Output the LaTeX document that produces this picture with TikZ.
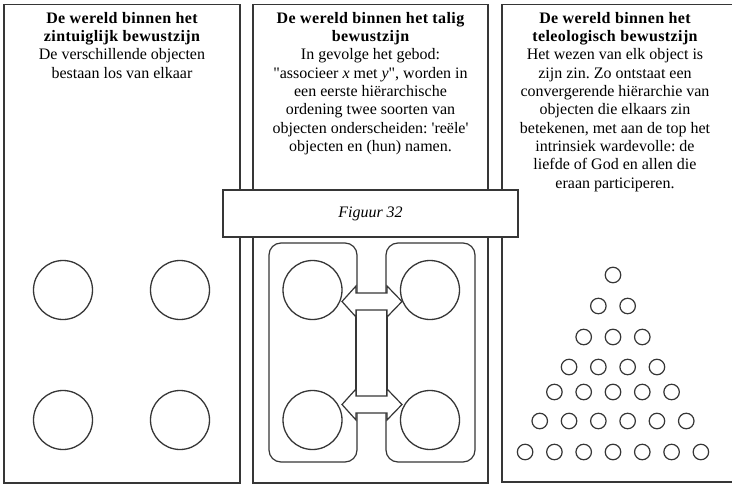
\documentclass[tikz,border=0pt]{standalone}
\usepackage{fontspec}
\setmainfont{Liberation Serif}[Ligatures=TeXOff]
\definecolor{ink}{HTML}{363636}
\newcommand\paneltitle[1]{{\bfseries\addfontfeatures{LetterSpace=2.5}#1}}
\frenchspacing
\begin{document}
\begin{tikzpicture}[x=1pt,y=-1pt,
  panel/.style={draw=ink,line width=1.4pt},
  obj/.style={circle,draw=ink,line width=1.3pt,minimum size=59pt,inner sep=0pt},
  dot/.style={circle,draw=ink,line width=1.2pt,minimum size=15.5pt,inner sep=0pt},
  txt/.style={align=center,inner sep=0pt,anchor=north,font=\fontsize{16}{18.3}\selectfont},
  group/.style={draw=ink,line width=1.2pt,rounded corners=12pt},
  link/.style={draw=ink,fill=white,line width=1.2pt,line join=miter},
  caption/.style={draw=ink,fill=white,line width=1.4pt,minimum width=295pt,minimum height=47pt,inner sep=0pt,font=\fontsize{16}{18}\selectfont\itshape}]
\useasboundingbox (0,0) rectangle (732,485);
\clip (0,0) rectangle (732,485);
\fill[white] (0,0) rectangle (732,485);
% panels
\draw[panel] (4,4.5) rectangle (240,483);
\draw[panel] (253,4.5) rectangle (488,483);
\draw[panel] (502,4.5) rectangle (745,482);
% texts
\node[txt] (t1) at (122,12) {\paneltitle{De wereld binnen het}\\\paneltitle{zintuiglijk bewustzijn}\\De verschillende objecten\\bestaan los van elkaar};
\node[txt] (t2) at (370.5,12) {\paneltitle{De wereld binnen het talig}\\\paneltitle{bewustzijn}\\In gevolge het gebod:\\"associeer \textit{x} met \textit{y}", worden in\\een eerste hiërarchische\\ordening twee soorten van\\objecten onderscheiden: 'reële'\\objecten en (hun) namen.};
\node[txt] (t3) at (615,12) {\paneltitle{De wereld binnen het}\\\paneltitle{teleologisch bewustzijn}\\Het wezen van elk object is\\zijn zin. Zo ontstaat een\\convergerende hiërarchie van\\objecten die elkaars zin\\betekenen, met aan de top het\\intrinsiek wardevolle: de\\liefde of God en allen die\\eraan participeren.};
% caption
\node[caption] (fig) at (370.5,213.5) {Figuur 32};
% left panel objects
\node[obj] (a1) at (63,290) {};
\node[obj] (a2) at (180,290) {};
\node[obj] (a3) at (63,420) {};
\node[obj] (a4) at (180,420) {};
% middle panel
\draw[group] (269,243) rectangle (357,462);
\draw[group] (386,243) rectangle (475,462);
\node[obj] (m1) at (312.5,290) {};
\node[obj] (m2) at (430,290) {};
\node[obj] (m3) at (312.5,420) {};
\node[obj] (m4) at (430,420) {};
\draw[link] (356,309.5) rectangle (387,396.5);
\foreach \c in {301.5,404.5}{
  \draw[link] (342,\c) -- (356,\c-15.5) -- (356,\c-8.5) -- (387,\c-8.5) -- (387,\c-15.5)
    -- (402,\c) -- (387,\c+15.5) -- (387,\c+8.5) -- (356,\c+8.5) -- (356,\c+15.5) -- cycle;
}
% right panel triangle
\foreach \k/\yy in {1/275,2/306,3/337,4/367,5/392,6/421,7/452}{
  \foreach \j in {1,...,\k}{
    \node[dot] (d\k-\j) at ({613+(\j-(\k+1)/2)*29.3},\yy) {};
  }
}
\end{tikzpicture}
\end{document}
